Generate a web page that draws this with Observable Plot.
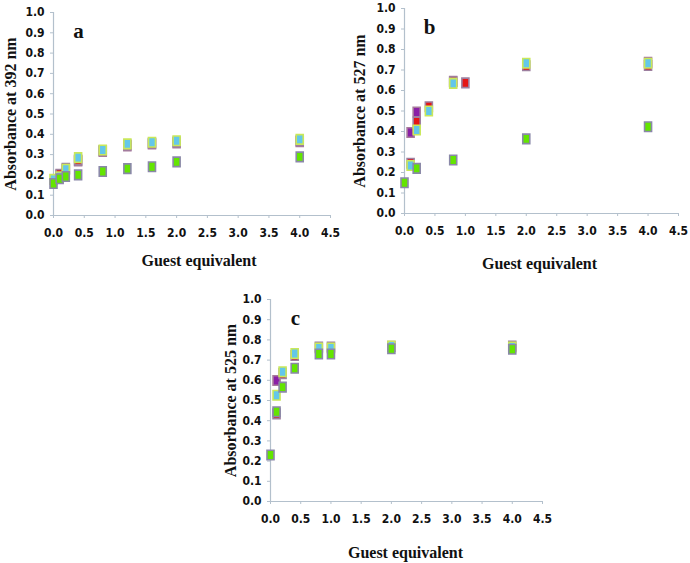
<!DOCTYPE html>
<html><head><meta charset="utf-8">
<script src="https://cdn.jsdelivr.net/npm/d3@7"></script>
<script src="https://cdn.jsdelivr.net/npm/@observablehq/plot@0.6"></script>
<style>
html,body{margin:0;padding:0;background:#fff;}
#root{position:relative;width:690px;height:563px;overflow:hidden;}
.panel{position:absolute;}
.panel svg{overflow:visible;}
</style></head><body><div id="root"></div>
<script>
// ---- tick labels ----
const xTicks = [0, 0.5, 1.0, 1.5, 2.0, 2.5, 3.0, 3.5, 4.0, 4.5];
const yTicks = [0, 0.1, 0.2, 0.3, 0.4, 0.5, 0.6, 0.7, 0.8, 0.9, 1.0];
const xLabel = "Guest equivalent";

// ---- panel a ----
const aLetter = "a";
const aYLabel = "Absorbance at 392 nm";
const aX      = [0, 0.1, 0.2, 0.4, 0.8, 1.2, 1.6, 2.0, 4.0];
const aPurple = [null, 0.199, 0.228, 0.269, 0.316, 0.343, 0.352, 0.358, 0.364];
const aRed    = [null, 0.203, 0.232, 0.273, 0.320, 0.347, 0.356, 0.362, 0.368];
const aCyan   = [0.178, 0.191, 0.228, 0.285, 0.323, 0.353, 0.361, 0.368, 0.375];
const aGreen  = [0.158, 0.181, 0.192, 0.200, 0.217, 0.231, 0.240, 0.264, 0.289];

// ---- panel b ----
const bLetter = "b";
const bYLabel = "Absorbance at 527 nm";
const bX      = [0, 0.1, 0.2, 0.4, 0.8, 1.0, 2.0, 4.0];
const bPurple = [null, 0.395, 0.495, null, 0.645, null, null, 0.738];
const bRed    = [null, 0.245, 0.446, 0.521, 0.643, 0.637, 0.721, 0.722];
const bCyan   = [null, 0.234, 0.407, 0.500, 0.635, null, 0.733, 0.733];
const bGreen  = [0.150, null, 0.220, null, 0.261, null, 0.364, 0.423];

// ---- panel c ----
const cLetter = "c";
const cYLabel = "Absorbance at 525 nm";
const cX      = [0, 0.1, 0.2, 0.4, 0.8, 1.0, 2.0, 4.0];
const cPurple = [null, 0.599, null, null, null, null, null, null];
const cRed    = [null, 0.434, 0.633, 0.723, 0.765, 0.765, 0.768, 0.770];
const cCyan   = [null, 0.526, 0.642, 0.733, 0.760, 0.760, 0.770, 0.765];
const cGreen  = [0.230, 0.444, 0.566, 0.660, 0.730, 0.730, 0.756, 0.754];

// ---- styles ----
const axisColor = "#b3c0cc";
const tickFont = "'Liberation Sans Narrow', 'DejaVu Sans Condensed', 'Arial Narrow', sans-serif";
const serifFont = "'Liberation Serif', 'Times New Roman', serif";
const seriesStyle = [
  {key: "purple", fill: "#8a1fa6", stroke: "#a77a9c"},
  {key: "red",    fill: "#e51616", stroke: "#9d7f9f"},
  {key: "cyan",   fill: "#63c7ea", stroke: "#c9e85a"},
  {key: "green",  fill: "#63e500", stroke: "#8a88a8"}
];
// tall square marker
const tallSquare = {
  draw(context, size) {
    const r = Math.sqrt(size / Math.PI);
    const w = 0.7 * r, h = 0.95 * r;
    context.moveTo(-w, -h); context.lineTo(w, -h); context.lineTo(w, h); context.lineTo(-w, h); context.closePath();
  }
};

function rows(xs, ys) {
  return xs.map((x, i) => ({x, y: ys[i]})).filter(d => d.y != null);
}

function panel({left, top, width, height, margins, letter, yLabel, xs, series, yLabelDx, xLabelDx, xLabelDy}) {
  const [mt, mr, mb, ml] = margins;
  const marks = [
    Plot.ruleY([0], {stroke: axisColor, strokeWidth: 1.2}),
    Plot.ruleX([0], {stroke: axisColor, strokeWidth: 1.2}),
    Plot.axisX({ticks: xTicks, tickFormat: d3.format(".1f"), tickSize: 3, tickPadding: 10, stroke: axisColor, label: null,
      fontSize: 12, fontWeight: "bold", fontFamily: tickFont, fill: "#111"}),
    Plot.axisY({ticks: yTicks, tickFormat: d3.format(".1f"), tickSize: 3, tickPadding: 6, stroke: axisColor, label: null,
      fontSize: 12, fontWeight: "bold", fontFamily: tickFont, fill: "#111"}),
    Plot.text([yLabel], {frameAnchor: "left", rotate: -90, textAnchor: "middle", lineAnchor: "middle", dx: yLabelDx,
      fontSize: 16, fontWeight: "bold", fontFamily: serifFont, fill: "#111"}),
    Plot.text([xLabel], {frameAnchor: "bottom", textAnchor: "middle", lineAnchor: "middle", dx: xLabelDx, dy: xLabelDy,
      fontSize: 16, fontWeight: "bold", fontFamily: serifFont, fill: "#111"}),
    Plot.text([letter], {frameAnchor: "top-left", textAnchor: "middle", lineAnchor: "middle", dx: 25, dy: 19,
      fontSize: 21, fontWeight: "bold", fontFamily: serifFont, fill: "#111"})
  ];
  seriesStyle.forEach((s, i) => {
    marks.push(Plot.dot(rows(xs, series[i]), {x: "x", y: "y", symbol: tallSquare, r: 5,
      fill: s.fill, stroke: s.stroke, strokeWidth: 1.6}));
  });
  const chart = Plot.plot({
    width, height,
    marginTop: mt, marginRight: mr, marginBottom: mb, marginLeft: ml,
    style: {background: "transparent", color: "#111", overflow: "visible"},
    x: {domain: [0, 4.5]},
    y: {domain: [0, 1]},
    marks
  });
  const div = document.createElement("div");
  div.className = "panel";
  div.style.left = left + "px";
  div.style.top = top + "px";
  div.appendChild(chart);
  document.getElementById("root").appendChild(div);
}

panel({left: 0, top: 0, width: 345, height: 275, margins: [12, 15, 60, 53],
  letter: aLetter, yLabel: aYLabel, xs: aX, series: [aPurple, aRed, aCyan, aGreen],
  yLabelDx: -43, xLabelDx: 7, xLabelDy: 45});
panel({left: 345, top: 0, width: 345, height: 275, margins: [8, 12, 62, 59],
  letter: bLetter, yLabel: bYLabel, xs: bX, series: [bPurple, bRed, bCyan, bGreen],
  yLabelDx: -45, xLabelDx: -2, xLabelDy: 50});
panel({left: 170, top: 280, width: 380, height: 283, margins: [19, 8, 62, 100],
  letter: cLetter, yLabel: cYLabel, xs: cX, series: [cPurple, cRed, cCyan, cGreen],
  yLabelDx: -40, xLabelDx: -1, xLabelDy: 51});
</script>
</body></html>
